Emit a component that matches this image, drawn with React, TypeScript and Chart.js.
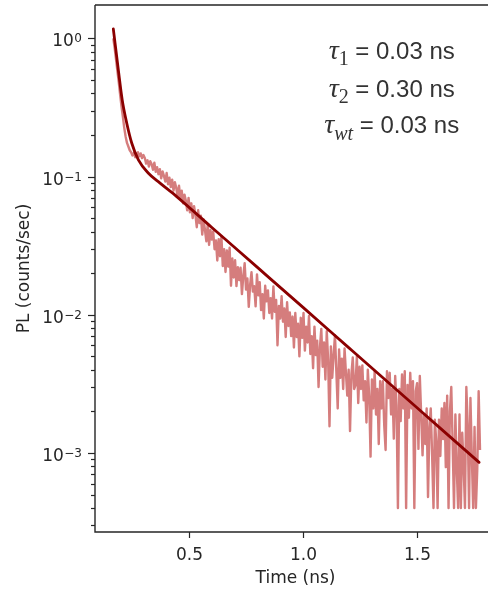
import { useEffect, useRef } from 'react';
import { Chart, registerables } from 'chart.js';

Chart.register(...registerables);

// ---- data -----------------------------------------------------------
const timeStart = 0.168; // ns, first histogram bin
const timeStep = 0.006; // ns, bin width

const plValues = [
  // 0.168 - 0.300
  1.0, 0.85, 0.7, 0.58, 0.48, 0.39, 0.32, 0.27, 0.225, 0.195,
  0.175, 0.165, 0.155, 0.15, 0.142, 0.148, 0.138, 0.146, 0.15, 0.14,
  0.147, 0.136, 0.143,
  // 0.306 - 0.600
  0.136, 0.124, 0.131, 0.118, 0.129, 0.123, 0.112, 0.126, 0.108, 0.117,
  0.104, 0.113, 0.097, 0.109, 0.101, 0.092, 0.106, 0.088, 0.098, 0.084,
  0.095, 0.079, 0.091, 0.083, 0.072, 0.086, 0.07, 0.079, 0.064, 0.074,
  0.067, 0.057, 0.07, 0.055, 0.064, 0.05, 0.061, 0.053, 0.043, 0.057,
  0.046, 0.052, 0.038, 0.049, 0.041, 0.034, 0.045, 0.032, 0.041, 0.035,
  // 0.606 - 1.104
  0.04, 0.0298, 0.0345, 0.0247, 0.0352, 0.0265, 0.037, 0.0225, 0.0298, 0.0204,
  0.0292, 0.0223, 0.0305, 0.0162, 0.0255, 0.0186, 0.0248, 0.0161, 0.0221, 0.0178,
  0.0219, 0.0141, 0.0191, 0.0236, 0.0152, 0.0183, 0.0114, 0.0165, 0.0203, 0.0147,
  0.0161, 0.0115, 0.0196, 0.0138, 0.0172, 0.0108, 0.0141, 0.0094, 0.0162, 0.0125,
  0.015, 0.0103, 0.0132, 0.0094, 0.016, 0.0105, 0.0128, 0.006, 0.0116, 0.0094,
  0.0136, 0.0089, 0.0111, 0.0069, 0.0123, 0.0083, 0.0104, 0.007, 0.0097, 0.0058,
  0.0103, 0.0069, 0.0086, 0.005, 0.0095, 0.0068, 0.0103, 0.0055, 0.0082, 0.0063,
  0.0098, 0.0052, 0.007, 0.0041, 0.0082, 0.0051, 0.0065, 0.003, 0.0058, 0.0079,
  0.0042, 0.0063, 0.0034, 0.0076,
  // 1.110 - 1.776
  0.0047, 0.00156, 0.0059, 0.0035, 0.0051, 0.0071, 0.0039, 0.0021, 0.0056, 0.0035,
  0.0048, 0.0029, 0.0057, 0.0038, 0.0026, 0.004, 0.00144, 0.0037, 0.0049, 0.0029,
  0.0031, 0.005, 0.0023, 0.0042, 0.0029, 0.0043, 0.0024, 0.0033, 0.00166, 0.004,
  0.0026, 0.00094, 0.0034, 0.0021, 0.0039, 0.0019, 0.0029, 0.00116, 0.0033, 0.0021,
  0.0033, 0.00158, 0.00105, 0.0039, 0.0025, 0.0038, 0.0019, 0.0029, 0.00127, 0.0036,
  0.0022, 0.0004, 0.0029, 0.0017, 0.0037, 0.0021, 0.0039, 0.0004, 0.0031, 0.0018,
  0.0038, 0.0021, 0.0033, 0.0004, 0.0028, 0.0032, 0.00107, 0.0036, 0.0019, 0.00096,
  0.0019, 0.00116, 0.0021, 0.00048, 0.00154, 0.0021, 0.00096, 0.0004, 0.00174, 0.00122,
  0.0004, 0.00174, 0.00095, 0.0021, 0.00126, 0.0023, 0.00079, 0.0026, 0.0004, 0.002,
  0.003, 0.00116, 0.0004, 0.0019, 0.00077, 0.0004, 0.0019, 0.0004, 0.0014, 0.00082,
  0.0004, 0.003, 0.0016, 0.0004, 0.0025, 0.00096, 0.0004, 0.00154, 0.0004, 0.00077,
  0.0028, 0.00105,
];

const fitTimes = [0.168, 0.19, 0.207, 0.227, 0.249, 0.278, 0.321, 0.373, 0.446, 0.6, 0.8, 1.0, 1.2, 1.4, 1.6, 1.772];
const fitValues = [1.17, 0.59, 0.358, 0.243, 0.174, 0.132, 0.106, 0.0895, 0.0716, 0.0428, 0.022, 0.0113, 0.00578, 0.00296, 0.00152, 0.000855];

const xTickValues = [0.5, 1.0, 1.5];
const xTickLabels = ['0.5', '1.0', '1.5'];
const yMajorValues = [1, 0.1, 0.01, 0.001];
const yMajorExponents = ['0', '\u22121', '\u22122', '\u22123'];

const tauSubscripts = ['1', '2', 'wt'];
const tauTexts = ['0.03 ns', '0.30 ns', '0.03 ns'];

const xTitle = 'Time (ns)';
const yTitle = 'PL (counts/sec)';

// ---- axis range ------------------------------------------------------
const xMin = 0.0877;
const xMax = 1.811;
const yMin = 2.68e-4;
const yMax = 1.742;

const INK = '#262626';
const TICK_FONT = '17px "DejaVu Sans"';

const axesPlugin = {
  id: 'mplAxes',
  afterDraw(chart: any) {
    const { ctx, chartArea } = chart;
    const { left, right, top, bottom } = chartArea;
    const xs = chart.scales.x;
    const ys = chart.scales.y;
    ctx.save();
    ctx.strokeStyle = INK;
    ctx.fillStyle = INK;
    ctx.lineWidth = 1.4;
    // spines
    ctx.beginPath();
    ctx.moveTo(left, top);
    ctx.lineTo(left, bottom);
    ctx.lineTo(right + 2, bottom);
    ctx.moveTo(left, top);
    ctx.lineTo(right + 2, top);
    ctx.stroke();

    // x ticks
    ctx.lineWidth = 1.2;
    ctx.font = TICK_FONT;
    ctx.textAlign = 'center';
    ctx.textBaseline = 'alphabetic';
    xTickValues.forEach((v, i) => {
      const px = Math.round(xs.getPixelForValue(v)) + 0.5;
      ctx.beginPath();
      ctx.moveTo(px, bottom);
      ctx.lineTo(px, bottom + 6);
      ctx.stroke();
      ctx.fillText(xTickLabels[i], px, bottom + 27.5);
    });

    // y minor ticks
    for (let e = -4; e <= 0; e++) {
      for (let m = 2; m <= 9; m++) {
        const v = m * Math.pow(10, e);
        if (v < yMin || v > yMax) continue;
        const py = Math.round(ys.getPixelForValue(v)) + 0.5;
        ctx.beginPath();
        ctx.moveTo(left, py);
        ctx.lineTo(left - 4, py);
        ctx.stroke();
      }
    }
    // y major ticks + labels
    yMajorValues.forEach((v, i) => {
      const py = Math.round(ys.getPixelForValue(v)) + 0.5;
      ctx.beginPath();
      ctx.moveTo(left, py);
      ctx.lineTo(left - 7, py);
      ctx.stroke();
      ctx.textAlign = 'right';
      ctx.font = '12px "DejaVu Sans"';
      const expX = left - 13;
      ctx.fillText(yMajorExponents[i], expX, py + 3.5);
      const ew = ctx.measureText(yMajorExponents[i]).width;
      ctx.font = TICK_FONT;
      ctx.fillText('10', expX - ew - 0.5, py + 7.5);
    });

    // axis titles
    ctx.font = TICK_FONT;
    ctx.textAlign = 'center';
    ctx.fillText(xTitle, (left + right) / 2 + 4, 583);
    ctx.save();
    ctx.translate(28.5, (top + bottom) / 2);
    ctx.rotate(-Math.PI / 2);
    ctx.fillText(yTitle, 0, 0);
    ctx.restore();

    // lifetime annotation
    ctx.fillStyle = '#333333';
    ctx.textAlign = 'left';
    const cx = 391.7;
    const baselines = [59, 96.7, 133.3];
    tauSubscripts.forEach((sub, i) => {
      const tauFont = 'italic 28px "Liberation Serif"';
      const subFont = (sub === 'wt' ? 'italic ' : '') + '20px "Liberation Serif"';
      const valFont = '24px "Liberation Sans"';
      const valText = ' = ' + tauTexts[i];
      ctx.font = tauFont;
      const wt = ctx.measureText('\u03c4').width;
      ctx.font = subFont;
      const ws = ctx.measureText(sub).width;
      ctx.font = valFont;
      const wv = ctx.measureText(valText).width;
      let x = cx - (wt + ws + wv) / 2;
      const b = baselines[i];
      ctx.font = tauFont;
      ctx.fillText('\u03c4', x, b);
      x += wt;
      ctx.font = subFont;
      ctx.fillText(sub, x, b + (sub === 'wt' ? 7 : 6));
      x += ws;
      ctx.font = valFont;
      ctx.fillText(valText, x, b);
    });
    ctx.restore();
  },
};

export default function App() {
  const canvasRef = useRef<HTMLCanvasElement | null>(null);

  useEffect(() => {
    document.body.style.margin = '0';
    const canvas = canvasRef.current;
    if (!canvas) return;
    const plPoints = plValues.map((v, i) => ({ x: +(timeStart + i * timeStep).toFixed(4), y: v }));
    const fitPoints = fitTimes.map((t, i) => ({ x: t, y: fitValues[i] }));
    const chart = new Chart(canvas, {
      type: 'line',
      data: {
        datasets: [
          {
            label: 'fit',
            data: fitPoints,
            borderColor: '#8b0000',
            borderWidth: 2.8,
            pointRadius: 0,
            cubicInterpolationMode: 'monotone',
            borderJoinStyle: 'round',
            borderCapStyle: 'round',
            order: 0,
          },
          {
            label: 'PL',
            data: plPoints,
            borderColor: 'rgba(195, 70, 70, 0.7)',
            borderWidth: 2.4,
            pointRadius: 0,
            tension: 0,
            borderJoinStyle: 'round',
            order: 1,
          },
        ],
      },
      options: {
        responsive: false,
        animation: false,
        devicePixelRatio: 1,
        layout: { padding: { left: 95, top: 5, right: 0, bottom: 60 } },
        scales: {
          x: { type: 'linear', min: xMin, max: xMax, display: false },
          y: { type: 'logarithmic', min: yMin, max: yMax, display: false },
        },
        plugins: { legend: { display: false }, tooltip: { enabled: false } },
      },
      plugins: [axesPlugin],
    } as any);
    return () => chart.destroy();
  }, []);

  return (
    <div style={{ position: 'absolute', left: 0, top: 0, width: 488, height: 592, background: '#fff' }}>
      <canvas ref={canvasRef} width={488} height={592} style={{ width: 488, height: 592 }} />
    </div>
  );
}
